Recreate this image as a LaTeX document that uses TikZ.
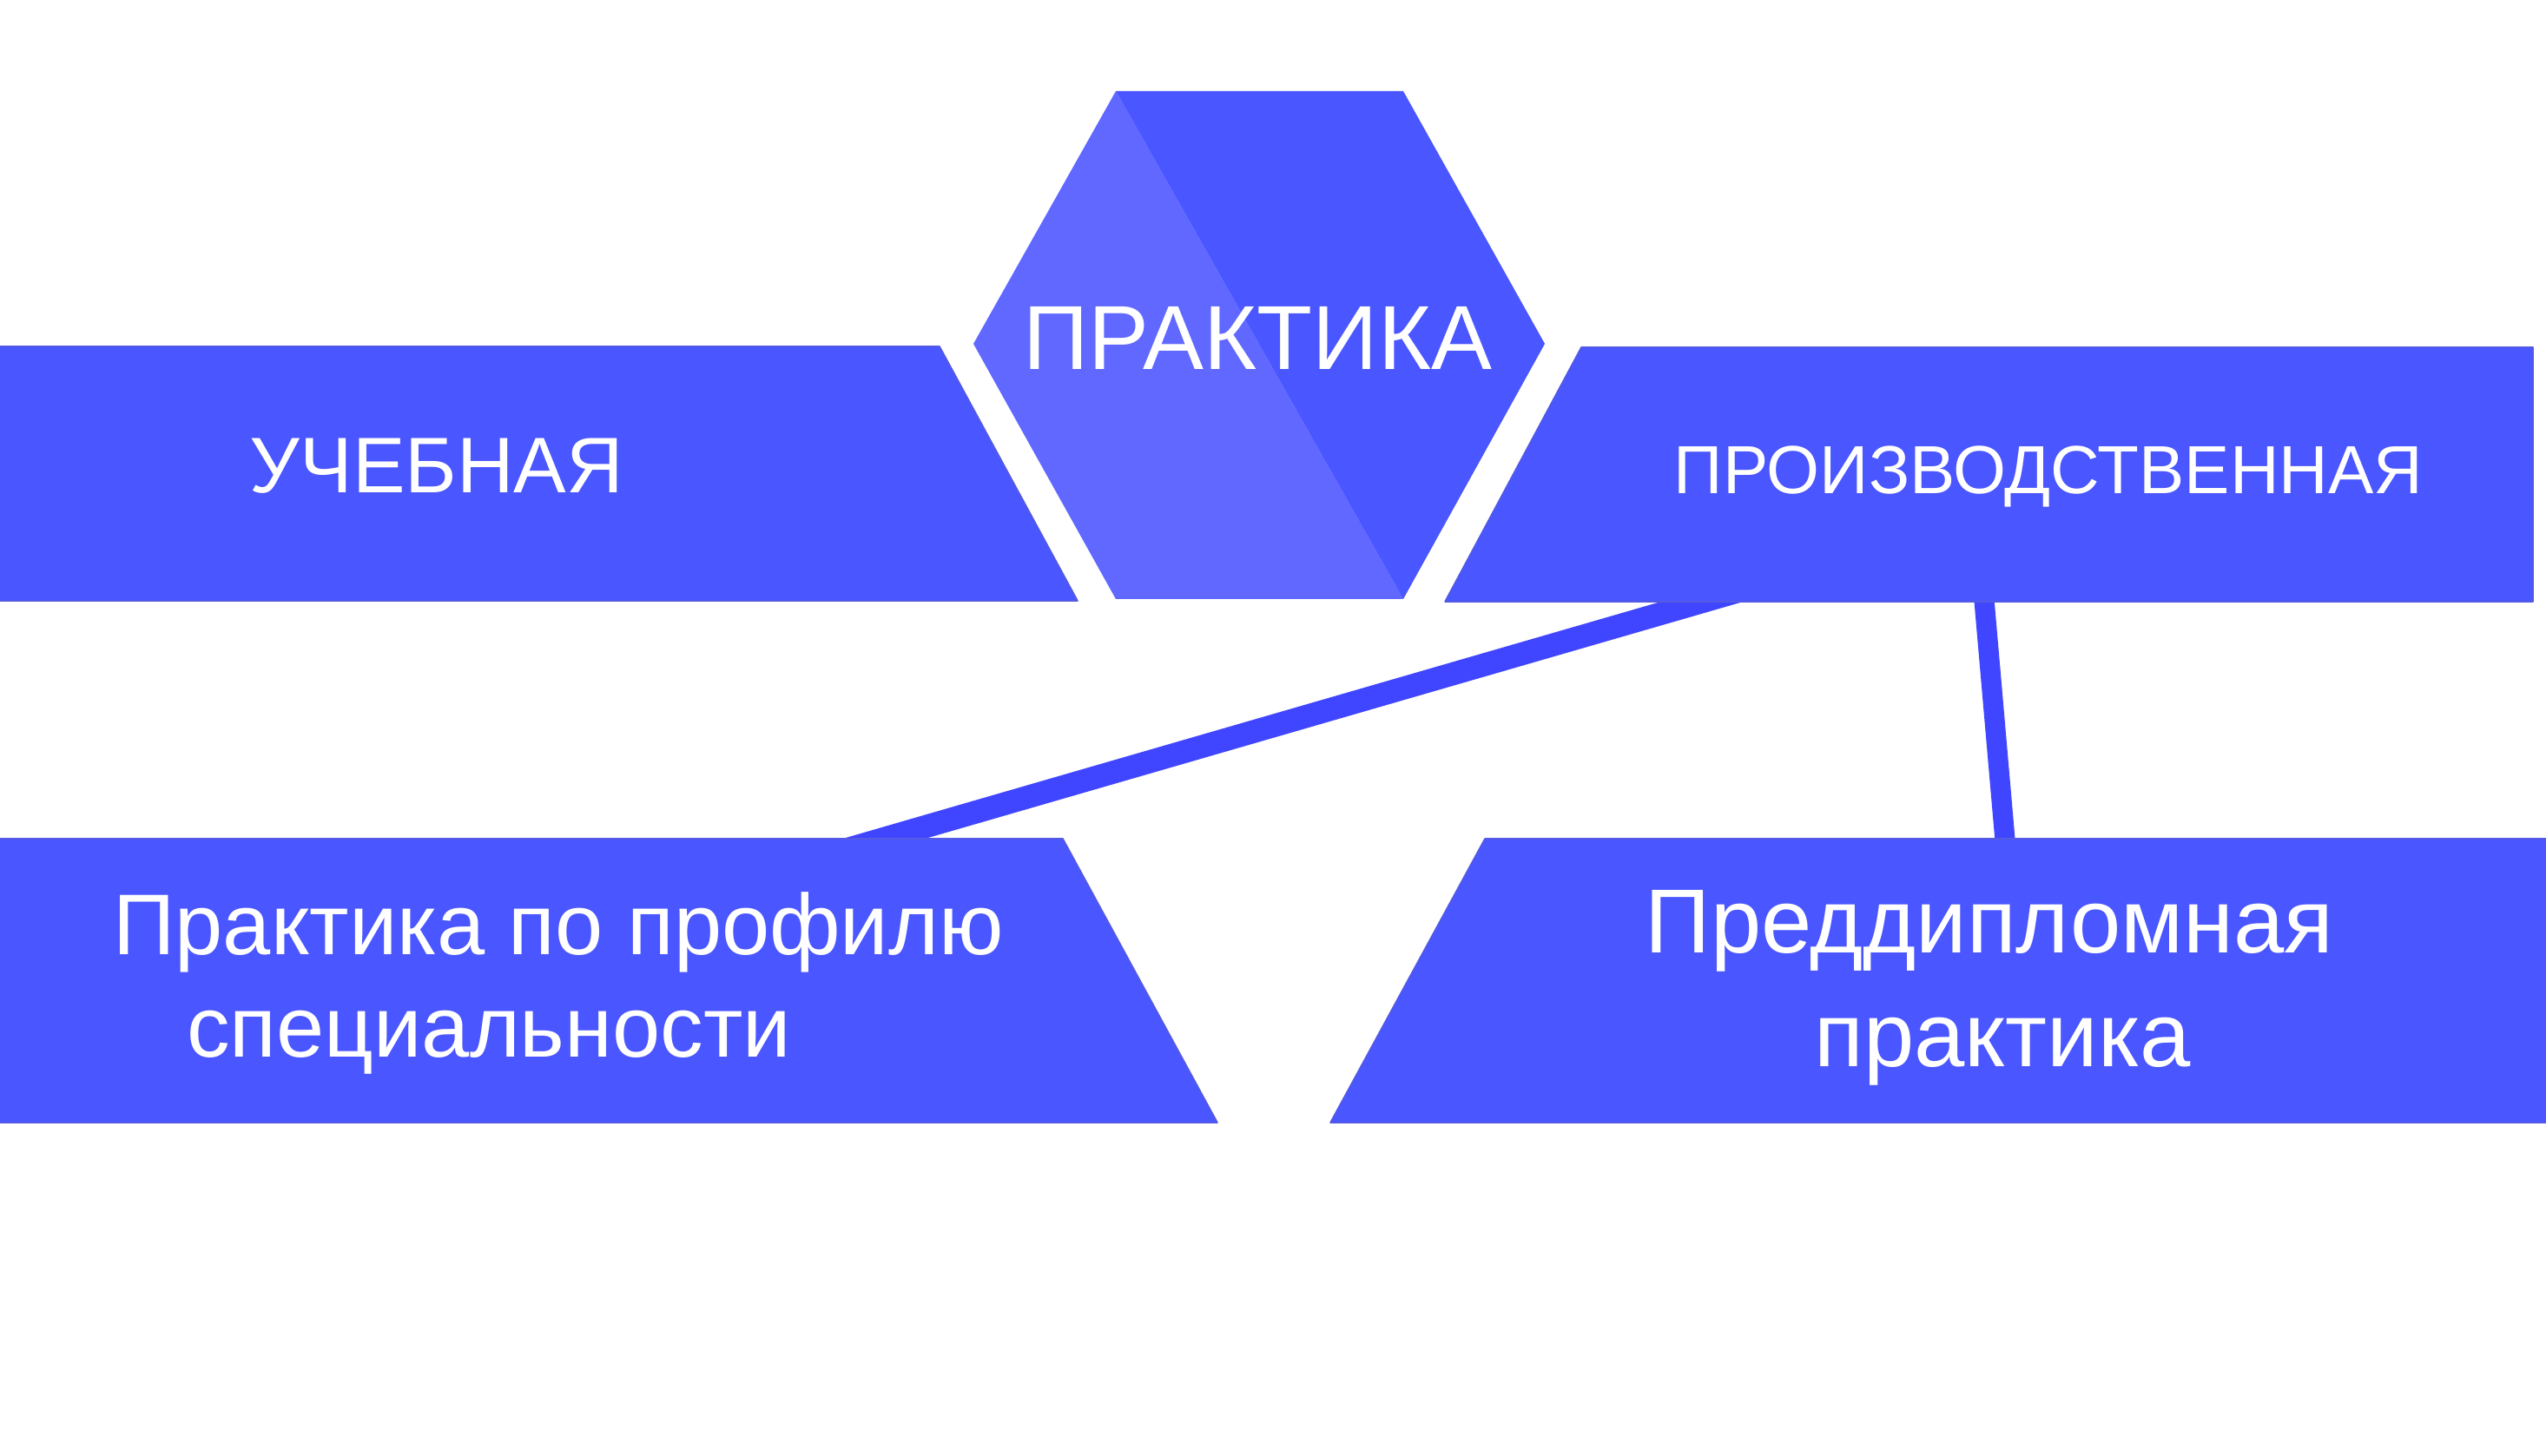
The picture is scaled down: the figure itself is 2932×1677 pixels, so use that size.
\documentclass[tikz,border=0pt]{standalone}
\usepackage{fontspec}
\setmainfont{Liberation Sans}
\definecolor{boxblue}{RGB}{74,86,255}
\definecolor{hexlight}{RGB}{96,104,255}
\definecolor{lineblue}{RGB}{64,70,255}
\definecolor{edgeblue}{RGB}{84,90,225}
\tikzset{
  boxfill/.style={fill=boxblue, draw=edgeblue, line width=0.4pt, line join=round},
  conn/.style={draw=lineblue},
  lbl/.style={text=white, inner sep=0pt, anchor=base},
}
\begin{document}
\begin{tikzpicture}[x=0.25pt,y=-0.25pt]
\useasboundingbox (0,0) rectangle (2932,1677);
\fill[white] (0,0) rectangle (2932,1677);

% connector end points (slightly inside the boxes)
\coordinate (proizv-b1) at (2005,680);
\coordinate (profil-t) at (973,979);
\coordinate (proizv-b2) at (2284,680);
\coordinate (predd-t) at (2310,979);

% connectors (behind boxes)
\draw[conn, line width=6.6pt] (proizv-b1) -- (profil-t);
\draw[conn, line width=5.8pt] (proizv-b2) -- (predd-t);

% hexagon
\fill[hexlight] (1285,105) -- (1121,396) -- (1285,690) -- (1616,690) -- cycle;
\fill[boxblue] (1285,105) -- (1616,105) -- (1779,396) -- (1616,690) -- cycle;

% boxes
\path[boxfill] (-5,399) -- (1082,399) -- (1241,692) -- (-5,692) -- cycle;
\path[boxfill] (1821,400) -- (2917,400) -- (2917,693) -- (1664,693) -- cycle;
\path[boxfill] (-5,966) -- (1224,966) -- (1402,1293) -- (-5,1293) -- cycle;
\path[boxfill] (1710,966) -- (2940,966) -- (2940,1293) -- (1532,1293) -- cycle;

% labels
\node[lbl, font=\fontsize{26.2pt}{30pt}\selectfont] (prakt) at (1448,426) {ПРАКТИКА};
\node[lbl, font=\fontsize{22.7pt}{26pt}\selectfont] (ucheb) at (503,568) {УЧЕБНАЯ};
\node[lbl, font=\fontsize{19.6pt}{24pt}\selectfont] (proizv) at (2359,569) {ПРОИЗВОДСТВЕННАЯ};
\node[lbl, font=\fontsize{24.8pt}{28pt}\selectfont] (profil1) at (643,1099) {Практика по профилю};
\node[lbl, font=\fontsize{24.8pt}{28pt}\selectfont] (profil2) at (563,1217) {специальности};
\node[lbl, font=\fontsize{26.2pt}{30pt}\selectfont] (predd1) at (2291,1097) {Преддипломная};
\node[lbl, font=\fontsize{26.2pt}{30pt}\selectfont] (predd2) at (2306,1228) {практика};
\end{tikzpicture}
\end{document}
